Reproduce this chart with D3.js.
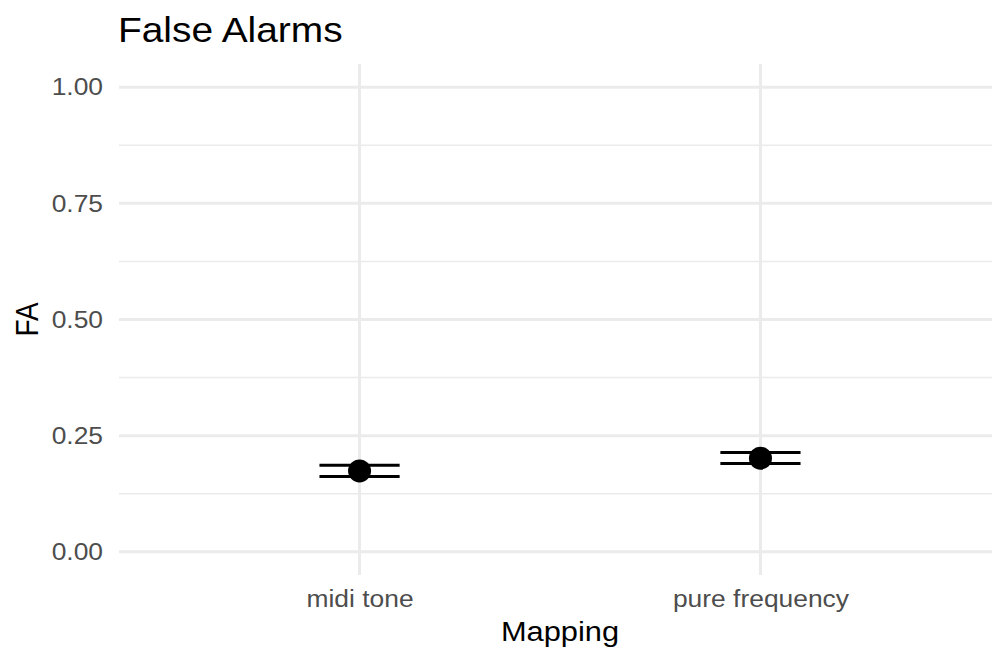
<!DOCTYPE html>
<html>
<head>
<meta charset="utf-8">
<script src="https://cdn.jsdelivr.net/npm/d3@7"></script>
<style>
  body { margin: 0; background: #fff; }
  svg text { font-family: "Liberation Sans", Arial, sans-serif; }
</style>
</head>
<body>
<div id="chart"></div>
<script>
// data
var mappings = ["midi tone", "pure frequency"];
var faMean = [0.174, 0.2015];
var faLower = [0.162, 0.190];
var faUpper = [0.186, 0.2135];
var yTicks = [0, 0.25, 0.5, 0.75, 1];
var yMinor = [0.125, 0.375, 0.625, 0.875];

var width = 992, height = 650;
var pLeft = 119, pRight = 1001, pTop = 64, pBottom = 575;
var sx = 1.1; // the reference text is a little wider than plain Arial

var svg = d3.select("#chart").append("svg")
    .attr("width", width)
    .attr("height", height);

// discrete x with ggplot's 0.6 expansion
var x = d3.scalePoint()
    .domain(mappings)
    .range([pLeft, pRight])
    .padding(0.6);
var step = x.step();

// continuous y with 5% expansion
var y = d3.scaleLinear()
    .domain([-0.05, 1.05])
    .range([pBottom, pTop]);

var grid = svg.append("g");
grid.selectAll(".minor")
    .data(yMinor)
    .enter().append("line")
    .attr("x1", pLeft).attr("x2", pRight)
    .attr("y1", function(d){ return y(d); })
    .attr("y2", function(d){ return y(d); })
    .attr("stroke", "#ebebeb")
    .attr("stroke-width", 1.5);
grid.selectAll(".major")
    .data(yTicks)
    .enter().append("line")
    .attr("x1", pLeft).attr("x2", pRight)
    .attr("y1", function(d){ return y(d); })
    .attr("y2", function(d){ return y(d); })
    .attr("stroke", "#ebebeb")
    .attr("stroke-width", 3);
grid.selectAll(".vmajor")
    .data(mappings)
    .enter().append("line")
    .attr("x1", function(d){ return x(d); })
    .attr("x2", function(d){ return x(d); })
    .attr("y1", pTop).attr("y2", pBottom)
    .attr("stroke", "#ebebeb")
    .attr("stroke-width", 3);

// axes, no domain or tick marks
var yAxis = svg.append("g")
    .attr("transform", "translate(" + pLeft + ",0)")
    .call(d3.axisLeft(y).tickValues(yTicks).tickFormat(d3.format(".2f")).tickSize(0).tickPadding(16));
var xAxis = svg.append("g")
    .attr("transform", "translate(0," + pBottom + ")")
    .call(d3.axisBottom(x).tickSize(0).tickPadding(15));
[yAxis, xAxis].forEach(function(a){
    a.select(".domain").remove();
    a.selectAll("text")
        .attr("fill", "#4d4d4d")
        .attr("transform", "scale(" + sx + ",1)")
        .style("font-size", "24px");
});
yAxis.selectAll("text").attr("x", -16 / sx);

// error bars
var bars = svg.append("g");
mappings.forEach(function(m, i){
    [faLower[i], faUpper[i]].forEach(function(v){
        bars.append("line")
            .attr("x1", x(m) - step * 0.1)
            .attr("x2", x(m) + step * 0.1)
            .attr("y1", y(v))
            .attr("y2", y(v))
            .attr("stroke", "#000")
            .attr("stroke-width", 3);
    });
});

svg.append("g").selectAll("circle")
    .data(mappings)
    .enter().append("circle")
    .attr("cx", function(d){ return x(d); })
    .attr("cy", function(d, i){ return y(faMean[i]); })
    .attr("r", 11.5)
    .attr("fill", "#000");

svg.append("text")
    .attr("transform", "translate(118,42) scale(1.08,1)")
    .style("font-size", "36px")
    .text("False Alarms");

svg.append("text")
    .attr("transform", "translate(" + (pLeft + pRight) / 2 + ",641) scale(" + sx + ",1)")
    .attr("text-anchor", "middle")
    .style("font-size", "28px")
    .text("Mapping");

svg.append("text")
    .attr("transform", "translate(38," + (pTop + pBottom) / 2 + ") rotate(-90) scale(1," + sx + ")")
    .attr("text-anchor", "middle")
    .style("font-size", "28px")
    .text("FA");
</script>
</body>
</html>
